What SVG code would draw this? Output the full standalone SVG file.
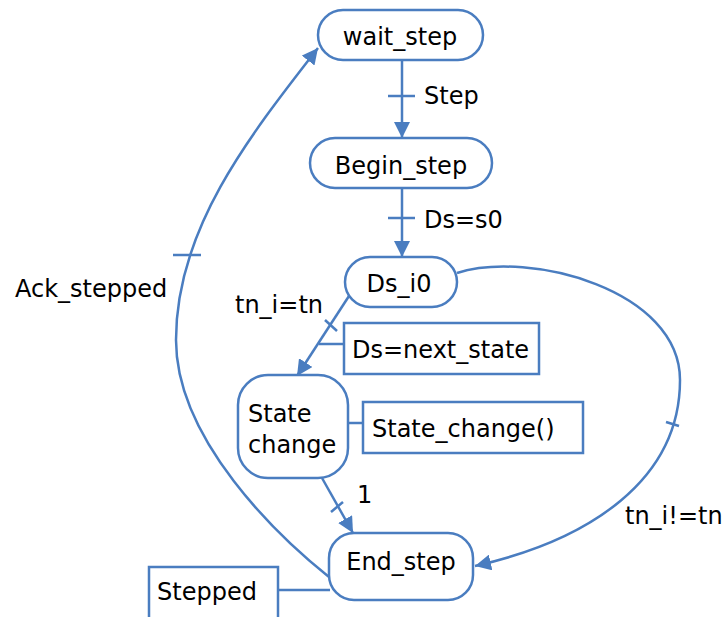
<svg xmlns="http://www.w3.org/2000/svg" width="725" height="617" viewBox="0 0 725 617">
<style>
.st{fill:#fff;stroke:#4a7dc0;stroke-width:2.5}
.bx{fill:#fff;stroke:#4a7dc0;stroke-width:2.5}
.c{fill:none;stroke:#4a7dc0;stroke-width:2.5}
.t{fill:none;stroke:#4a7dc0;stroke-width:2.5}
text{font-family:"DejaVu Sans","Liberation Sans",sans-serif;font-size:24px;fill:#000}
</style>
<defs>
<marker id="ah" markerUnits="userSpaceOnUse" markerWidth="18" markerHeight="16" refX="16" refY="8" orient="auto">
<path d="M0,0 L16,8 L0,16 Z" fill="#4a7dc0"/>
</marker>
</defs>
<rect width="725" height="617" fill="#fff"/>
<g id="connectors">
<line class="c" x1="402" y1="60" x2="402" y2="138" marker-end="url(#ah)"/>
<line class="t" x1="388" y1="96" x2="415" y2="96"/>
<line class="c" x1="402" y1="188" x2="402" y2="257" marker-end="url(#ah)"/>
<line class="t" x1="388" y1="218" x2="415" y2="218"/>
<line class="c" x1="349" y1="296" x2="297" y2="376" marker-end="url(#ah)"/>
<line class="t" x1="325" y1="320" x2="337" y2="331"/>
<line class="c" x1="319" y1="344" x2="344" y2="344"/>
<line class="c" x1="348" y1="423" x2="363" y2="423"/>
<line class="c" x1="322" y1="478" x2="353" y2="533" marker-end="url(#ah)"/>
<line class="t" x1="331" y1="512" x2="343" y2="502"/>
<path class="c" d="M 457 273 C 530 250, 680 290, 680 380 C 680 480, 590 540, 475 566" marker-end="url(#ah)"/>
<line class="t" x1="666" y1="422" x2="679" y2="426"/>
<path class="c" d="M 329 577 C 279 537, 176 440, 176 340 C 176 230, 247 139, 318 48" marker-end="url(#ah)"/>
<line class="t" x1="173" y1="255" x2="201" y2="255"/>
<line class="c" x1="278" y1="590" x2="330" y2="590"/>
</g>
<g id="wait_step">
<rect class="st" x="318" y="10" width="165" height="50" rx="25"/>
<text x="400" y="45" text-anchor="middle">wait_step</text>
</g>
<g id="Begin_step">
<rect class="st" x="310" y="138" width="182" height="50" rx="25"/>
<text x="401" y="174" text-anchor="middle">Begin_step</text>
</g>
<g id="Ds_i0">
<rect class="st" x="345" y="257" width="112" height="50" rx="25"/>
<text x="399" y="292" text-anchor="middle">Ds_i0</text>
</g>
<g id="State_change">
<rect class="st" x="238" y="375" width="110" height="103" rx="30"/>
<text x="248" y="422">State</text>
<text x="248" y="453">change</text>
</g>
<g id="End_step">
<rect class="st" x="329" y="533" width="144" height="67" rx="25"/>
<text x="401" y="570" text-anchor="middle">End_step</text>
</g>
<g id="Ds_next_state">
<rect class="bx" x="344" y="323" width="195" height="51"/>
<text x="352" y="358">Ds=next_state</text>
</g>
<g id="State_change_action">
<rect class="bx" x="363" y="402" width="220" height="51"/>
<text x="372" y="437">State_change()</text>
</g>
<g id="Stepped">
<rect class="bx" x="149" y="567" width="129" height="60"/>
<text x="157" y="600">Stepped</text>
</g>
<g id="labels">
<text x="424" y="104">Step</text>
<text x="424" y="228">Ds=s0</text>
<text x="235" y="313">tn_i=tn</text>
<text x="357" y="503">1</text>
<text x="625" y="524">tn_i!=tn</text>
<text x="15" y="297">Ack_stepped</text>
</g>
</svg>
